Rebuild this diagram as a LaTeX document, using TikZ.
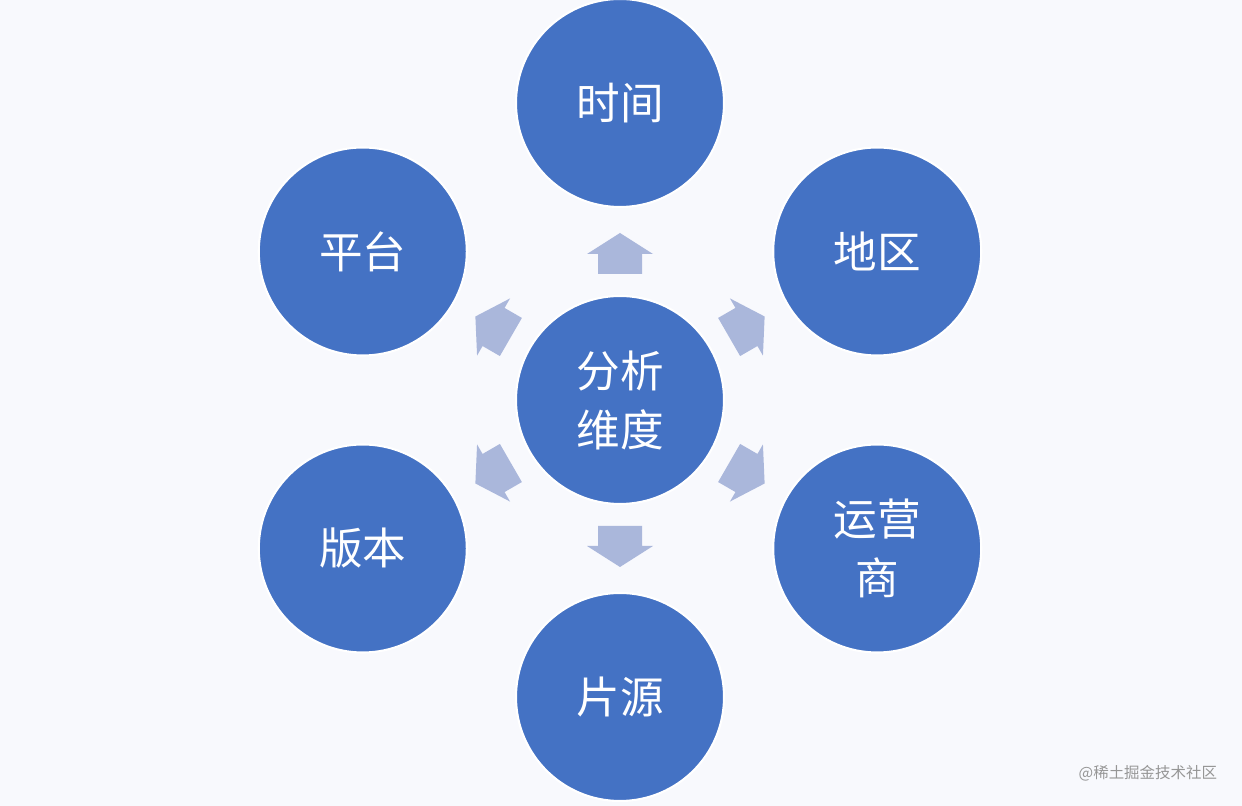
\documentclass[tikz,border=0pt]{standalone}
\usepackage{fontspec}
\usepackage{tikz}
\usetikzlibrary{positioning,calc}
\newfontfamily\cjk{Noto Sans CJK SC}
\definecolor{colorback}  {RGB}{248,249,253}
\definecolor{colorcircle}{RGB}{ 68,114,196}
\definecolor{colorarrow} {RGB}{170,183,219}
\definecolor{colormark}  {RGB}{150,150,150}

\begin{document}
\begin{tikzpicture}[
    x=0.025cm, y=0.025cm,
    dim/.style={circle,fill=colorcircle,draw=white,line width=1.5pt,minimum size=5.2cm,
        inner sep=0pt,text=white,align=center,font={\cjk\fontsize{31}{42}\selectfont}},
    pointer/.style={fill=colorarrow,draw=none},
    brandtext/.style={text=colormark,font={\cjk\fontsize{11}{13}\selectfont}},
]

    % Background
    \fill[colorback] (0,0) rectangle (1242,806);
    \useasboundingbox (0,0) rectangle (1242,806);

    % Centre
    \node[dim] (centre) at (620,406) {分析\\维度};

    % Dimensions
    \node[dim] (time)     at ($(centre)+(90:297)$)  {时间};
    \node[dim] (region)   at ($(centre)+(30:297)$)  {地区};
    \node[dim] (operator) at ($(centre)+(-30:297)$) {运营\\商};
    \node[dim] (film)     at ($(centre)+(-90:297)$) {片源};
    \node[dim] (version)  at ($(centre)+(210:297)$) {版本};
    \node[dim] (platform) at ($(centre)+(150:297)$) {平台};

    % Arrows
    \foreach \a in {90,30,-30,-90,210,150}
        \fill[pointer,shift={(centre)},rotate=\a]
            (126,-22) -- (146,-22) -- (146,-33) -- (167,0) -- (146,33) -- (146,22) -- (126,22) -- cycle;

    % Watermark
    \node[brandtext,anchor=east] (brand) at (1222,33) {@稀土掘金技术社区};

\end{tikzpicture}
\end{document}
